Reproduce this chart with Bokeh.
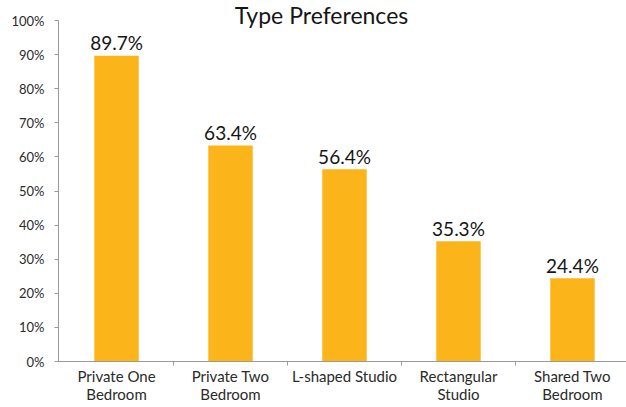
from bokeh.plotting import figure
from bokeh.models import Range1d, FixedTicker, Label, ColumnDataSource
from bokeh.core.properties import value
from bokeh.embed import file_html
from bokeh.resources import INLINE

categories = ["Private One\nBedroom", "Private Two\nBedroom", "L-shaped Studio",
              "Rectangular\nStudio", "Shared Two\nBedroom"]
percentages = [89.7, 63.4, 56.4, 35.3, 24.4]
y_ticks = [0, 10, 20, 30, 40, 50, 60, 70, 80, 90, 100]
chart_title = "Type Preferences"

xs = list(range(len(categories)))
labels = [f"{v:.1f}%" for v in percentages]
src = ColumnDataSource(dict(x=xs, top=percentages, label=labels))

FONT = "Lato"
W, H = 626, 407
Y_TOP = 105.9

p = figure(width=W, height=H, output_backend="svg", toolbar_location=None,
           x_range=Range1d(-0.509, 4.474), y_range=Range1d(0, Y_TOP),
           min_border_left=58, min_border_right=0, min_border_top=0, min_border_bottom=46)
p.outline_line_color = None
p.background_fill_color = "white"
p.grid.visible = False

p.vbar(x="x", top="top", width=0.39, bottom=0, source=src,
       fill_color="#FBB51B", line_color=None)

p.text(x="x", y="top", text="label", source=src, text_align="center",
       text_baseline="alphabetic", y_offset=-13, text_font=value(FONT),
       text_font_size="19px", text_color="#151515")

# y axis
p.yaxis.ticker = FixedTicker(ticks=y_ticks)
p.yaxis.major_label_overrides = {t: f"{t}%" for t in y_ticks}
p.yaxis.bounds = (0, 100)
p.yaxis.axis_line_color = "#9a9a9a"
p.yaxis.major_tick_line_color = "#9a9a9a"
p.yaxis.major_tick_out = 4
p.yaxis.major_tick_in = 0
p.yaxis.minor_tick_line_color = None
p.yaxis.major_label_standoff = 10
p.yaxis.major_label_text_font = FONT
p.yaxis.major_label_text_font_size = "13px"
p.yaxis.major_label_text_color = "#2a2a2a"

# x axis
boundaries = [i + 0.5 for i in xs[:-1]]
p.xaxis.ticker = FixedTicker(ticks=xs, minor_ticks=boundaries)
p.xaxis.major_label_overrides = {i: c for i, c in zip(xs, categories)}
p.xaxis.axis_line_color = "#9a9a9a"
p.xaxis.major_tick_line_color = None
p.xaxis.major_tick_out = 4
p.xaxis.major_tick_in = 0
p.xaxis.minor_tick_line_color = "#9a9a9a"
p.xaxis.minor_tick_out = 4
p.xaxis.minor_tick_in = 0
p.xaxis.major_label_standoff = 1
p.xaxis.major_label_text_font = FONT
p.xaxis.major_label_text_font_size = "15px"
p.xaxis.major_label_text_color = "#2a2a2a"
p.xaxis.major_label_text_line_height = 1.05

title = Label(x=263, x_units="screen", y=Y_TOP, y_units="data",
              text=chart_title, text_align="center", text_baseline="top",
              text_font=FONT, text_font_size="23px", text_color="#151515")
p.add_layout(title)

open("out.html", "w").write(file_html(p, INLINE))
